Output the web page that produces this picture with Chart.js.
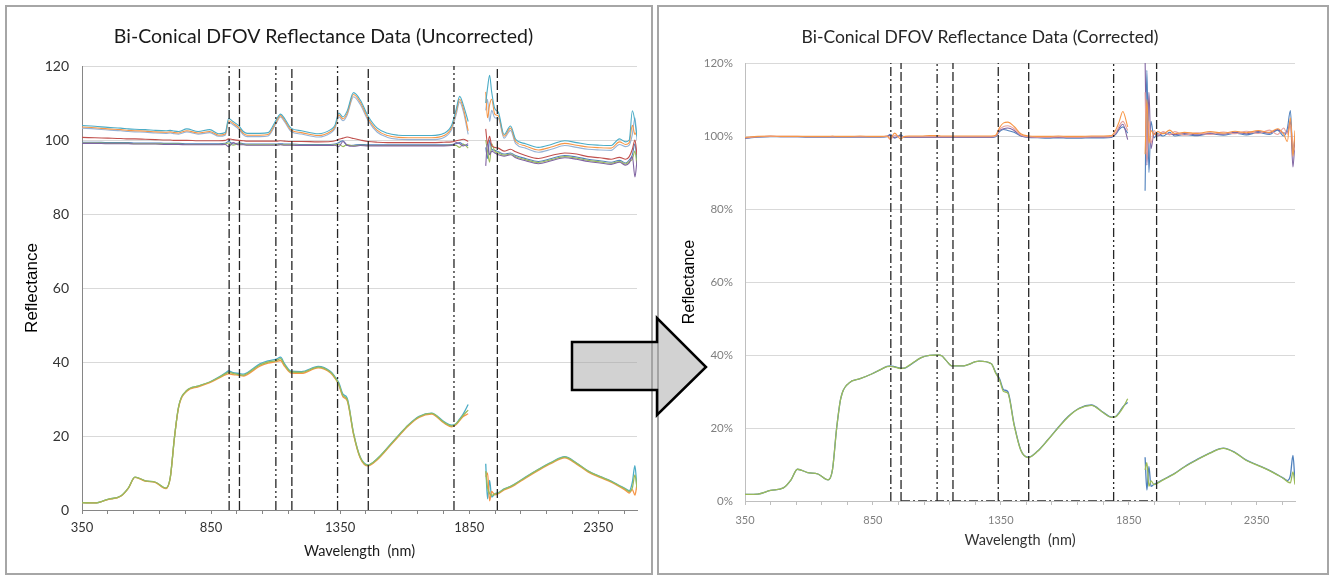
<!DOCTYPE html>
<html>
<head>
<meta charset="utf-8">
<title>Bi-Conical DFOV Reflectance Data</title>
<script src="https://cdn.jsdelivr.net/npm/chart.js@4.4.1/dist/chart.umd.min.js"></script>
<style>
  body { margin:0; background:#fff; width:1331px; height:576px; position:relative; overflow:hidden; }
  .panel { position:absolute; border:2px solid #a6a6a6; box-sizing:border-box; z-index:0; }
  .holder { position:absolute; top:0; z-index:1; }
  #arrow { position:absolute; left:0; top:0; z-index:2; }
</style>
</head>
<body>
<div class="panel" style="left:5px; top:5px; width:648px; height:570px"></div>
<div class="panel" style="left:657px; top:5px; width:672px; height:570px"></div>

<div class="holder" style="left:0; width:670px; height:576px"><canvas id="leftChart" width="670" height="576"></canvas></div>
<div class="holder" style="left:655px; width:676px; height:576px"><canvas id="rightChart" width="676" height="576"></canvas></div>

<svg id="arrow" width="1331" height="576">
  <polygon points="572,342 657,342 657,318 706,367 657,415 657,390 572,390"
           fill="rgba(160,160,160,0.48)" stroke="#000" stroke-width="2.5" stroke-linejoin="miter"/>
</svg>

<script>
// wavelength grid shared by every spectrum, null value at 1880 makes the gap
const wavelengths = [350,400,450,500,530,555,595,635,675,692,
  708,724,756,800,845,880,905,918,935,958,
  975,990,1039,1071,1103,1119,1135,1160,1200,1265,
  1313,1330,1345,1361,1377,1402,1428,1458,1494,1534,
  1575,1614,1656,1704,1752,1782,1800,1813,1827,1846,
  1880,1914,1921,1929,1937,1949,1963,1985,2010,2030,
  2068,2118,2168,2220,2266,2310,2356,2400,2432,2456,
  2470,2482,2492,2500];

// x axis: minor ticks every 100 nm, labels every 500 nm
const xTickValues = [350,450,550,650,750,850,950,1050,1150,1250,1350,1450,1550,1650,1750,1850,1950,2050,2150,2250,2350,2450];
const xLabelValues = [350,850,1350,1850,2350];

// vertical band markers and the corrected chart's baseline span
const markerWavelengths = [920,960,1101,1163,1340,1459,1791,1959];
const baselineSpan = [960,1959];

// ---- uncorrected: reference panel spectra (~100) ----
const leftTeal = [103.9,103.7,103.4,103.2,103.0,102.9,102.8,102.6,102.5,102.6,
  102.4,102.3,103.0,102.3,102.8,101.7,102.0,105.8,105.0,103.8,
  102.3,101.8,101.8,102.0,105.5,107.0,105.8,103.2,102.5,101.7,
  102.8,104.0,107.3,106.2,107.8,112.8,110.8,106.5,103.2,101.8,
  101.3,101.2,101.2,101.2,101.8,104.0,108.5,111.8,109.5,105.0,
  null,110.0,114.0,117.5,113.0,108.5,107.5,101.5,103.8,100.2,
  99.0,98.0,98.8,99.8,99.3,98.8,98.6,98.5,100.3,99.5,
  100.0,107.9,105.0,101.0];
const leftOrange = [103.5,103.3,103.0,102.8,102.6,102.5,102.4,102.2,102.1,102.2,
  102.0,101.9,102.5,101.9,102.3,101.3,101.6,105.2,104.5,103.3,
  101.8,101.3,101.3,101.5,105.0,106.6,105.3,102.7,102.0,101.2,
  102.3,103.5,106.8,105.7,107.2,112.3,110.2,105.9,102.6,101.2,
  100.7,100.6,100.6,100.6,101.2,103.4,107.8,111.0,108.6,102.5,
  null,113.0,106.0,109.5,111.0,107.0,106.5,101.0,103.2,99.6,
  98.4,97.3,98.1,99.1,98.6,98.1,97.9,97.8,99.5,98.8,
  99.3,104.0,101.5,102.5];
const leftLightBlue = [103.2,103.0,102.7,102.5,102.3,102.2,102.1,101.9,101.8,101.9,
  101.7,101.6,102.2,101.6,102.0,101.0,101.3,104.8,104.1,102.9,
  101.4,100.9,100.9,101.1,104.6,106.2,104.9,102.3,101.6,100.8,
  101.9,103.1,106.3,105.2,106.7,111.7,109.6,105.3,102.1,100.7,
  100.2,100.1,100.1,100.1,100.7,102.8,107.0,110.3,107.8,101.5,
  null,108.0,111.0,105.0,108.0,106.0,105.8,100.5,102.6,99.0,
  97.8,96.7,97.5,98.5,98.0,97.5,97.3,97.2,98.8,98.2,
  98.6,101.5,106.0,100.0];
const leftRed = [100.7,100.6,100.5,100.4,100.3,100.3,100.2,100.1,100.0,100.0,
  99.9,99.9,99.9,99.8,99.8,99.8,99.9,100.3,100.1,99.9,
  99.8,99.7,99.7,99.7,99.7,99.8,99.7,99.6,99.6,99.5,
  99.6,99.8,100.2,100.5,100.8,100.4,100.0,99.6,99.4,99.3,
  99.3,99.3,99.3,99.3,99.4,99.5,99.8,100.0,100.2,99.6,
  null,103.0,99.0,101.0,98.5,98.0,97.8,97.0,97.5,96.8,
  95.8,95.0,95.8,96.5,96.2,95.5,95.2,94.8,95.3,94.8,
  95.5,97.5,100.0,96.0];
const leftBlue = [99.4,99.4,99.3,99.3,99.3,99.2,99.2,99.2,99.1,99.1,
  99.1,99.1,99.0,99.0,99.0,99.0,99.1,99.6,98.9,99.2,
  99.0,98.9,98.9,98.9,98.9,99.0,98.9,98.9,98.8,98.8,
  98.8,98.9,99.3,99.8,98.5,98.6,98.8,98.7,98.7,98.7,
  98.7,98.7,98.7,98.7,98.7,98.8,99.0,99.3,98.8,98.5,
  null,98.0,95.0,100.0,97.5,97.2,96.8,96.2,96.5,95.8,
  95.0,94.2,95.0,95.8,95.4,94.8,94.4,94.0,94.5,93.8,
  94.6,96.0,99.0,94.0];
const leftGreen = [99.2,99.2,99.1,99.1,99.1,99.0,99.0,99.0,98.9,98.9,
  98.9,98.9,98.8,98.8,98.8,98.8,98.9,99.2,98.6,99.0,
  98.8,98.7,98.7,98.7,98.7,98.8,98.7,98.7,98.6,98.6,
  98.6,98.7,98.9,98.2,98.8,98.4,98.6,98.5,98.5,98.5,
  98.5,98.5,98.5,98.5,98.5,98.6,98.5,98.0,98.9,97.8,
  null,100.0,97.0,94.0,99.0,97.0,96.5,95.9,96.2,95.5,
  94.7,93.9,94.7,95.5,95.1,94.5,94.1,93.7,94.2,93.5,
  94.2,94.8,97.0,93.0];
const leftPurple = [99.1,99.1,99.0,99.0,99.0,98.9,98.9,98.9,98.8,98.8,
  98.8,98.8,98.7,98.7,98.7,98.7,98.8,98.2,99.3,98.7,
  98.7,98.6,98.6,98.6,98.6,98.7,98.6,98.6,98.5,98.5,
  98.5,98.6,98.2,99.6,98.6,98.3,98.5,98.4,98.4,98.4,
  98.4,98.4,98.4,98.4,98.4,98.5,99.3,99.0,98.4,99.0,
  null,93.0,99.5,96.0,97.0,96.5,96.0,95.6,96.0,95.2,
  94.4,93.6,94.4,95.2,94.8,94.2,93.8,93.4,94.0,93.2,
  93.8,95.5,90.0,94.5];

// ---- uncorrected: target spectra ----
const leftLowTeal = [2.0,1.9,2.9,3.8,6.0,8.9,7.9,7.5,5.9,8.8,
  19.5,27.8,32.3,33.5,34.6,35.9,37.0,37.6,37.1,36.9,
  36.7,37.1,39.5,40.3,40.8,41.3,39.5,37.5,37.4,38.8,
  37.4,36.0,34.4,31.3,30.3,20.8,14.3,12.2,13.9,16.9,
  20.1,23.0,25.3,26.2,23.9,22.9,23.4,24.6,26.0,28.5,
  null,12.5,3.0,8.0,3.5,4.4,4.7,5.7,6.4,7.2,
  8.9,11.0,12.9,14.4,12.7,10.6,9.1,7.8,6.6,5.7,
  5.2,7.5,12.0,5.5];
const leftLowOrange = [2.0,1.9,2.8,3.7,5.9,8.8,7.8,7.4,5.8,8.7,
  19.4,27.6,32.1,33.3,34.4,35.6,36.5,36.8,36.6,36.4,
  36.2,36.6,38.9,39.7,40.1,40.4,38.8,37.0,36.9,38.4,
  37.0,35.6,33.8,30.6,29.6,20.4,14.0,11.9,13.6,16.6,
  19.8,22.7,25.0,25.9,23.5,22.5,23.1,24.2,25.3,26.0,
  null,9.0,10.0,2.5,5.0,4.1,4.4,5.4,6.1,6.9,
  8.6,10.7,12.6,14.1,12.4,10.3,8.8,7.5,6.3,5.3,
  4.6,5.5,4.0,7.0];
const leftLowGreen = [2.0,1.9,2.9,3.8,6.0,8.9,7.9,7.5,5.9,8.8,
  19.5,27.8,32.3,33.5,34.6,35.8,36.8,37.2,36.9,36.6,
  36.4,36.9,39.2,40.0,40.4,40.9,39.2,37.3,37.2,38.6,
  37.2,35.8,34.0,30.9,29.9,20.6,14.2,12.1,13.8,16.8,
  20.0,22.9,25.2,26.1,23.7,22.7,23.3,24.4,25.6,27.0,
  null,10.5,6.0,4.5,4.0,4.3,4.6,5.6,6.3,7.1,
  8.8,10.9,12.8,14.3,12.6,10.5,9.0,7.7,6.5,5.6,
  5.0,6.0,9.5,6.0];

// ---- corrected (%): reference panel spectra ----
const rightBlue = [99.3,99.7,99.8,99.8,99.8,99.8,99.7,99.7,99.7,99.7,
  99.7,99.7,99.7,99.7,99.7,99.7,99.8,100.5,99.4,100.3,
  99.6,99.6,99.6,99.6,99.6,99.6,99.6,99.6,99.6,99.6,
  99.6,99.8,101.2,101.8,101.5,101.0,100.0,99.6,99.5,99.4,
  99.5,99.4,99.4,99.5,99.5,99.6,100.5,101.8,102.5,100.8,
  null,85.0,118.0,90.0,104.0,99.5,100.6,100.0,101.0,100.0,
  100.4,100.1,100.6,100.2,100.8,100.3,101.0,100.4,101.6,100.0,
  102.0,107.0,95.0,100.0];
const rightOrange = [99.6,99.9,100.0,99.9,99.9,99.9,99.9,99.9,99.9,100.0,
  99.9,99.9,99.9,100.0,99.9,99.9,100.0,99.3,100.8,99.2,
  99.9,100.0,100.0,100.1,100.1,100.0,100.0,100.0,100.0,100.0,
  100.0,100.2,102.3,103.6,103.8,102.6,100.6,100.0,99.9,99.9,
  100.0,99.9,99.9,100.0,100.0,100.1,101.8,104.0,106.7,102.5,
  null,95.0,110.0,98.0,101.5,100.4,101.2,100.6,101.6,100.6,
  101.0,100.7,101.2,100.8,101.3,100.9,101.5,101.0,102.0,100.5,
  98.5,105.0,94.5,101.5];
const rightPink = [99.5,99.8,99.9,99.9,99.9,99.9,99.8,99.8,99.8,99.8,
  99.8,99.8,99.8,99.8,99.8,99.8,99.9,99.0,100.2,99.8,
  99.8,99.8,99.8,99.8,99.8,99.8,99.8,99.8,99.8,99.8,
  99.8,100.0,101.8,102.6,102.8,102.0,100.3,99.8,99.7,99.7,
  99.8,99.7,99.7,99.8,99.8,99.9,101.0,102.8,104.0,101.5,
  null,112.0,93.5,104.0,98.0,101.5,100.2,101.2,100.3,101.2,
  100.2,100.9,100.4,101.1,100.6,101.3,100.7,101.6,100.4,102.2,
  100.5,103.0,98.0,96.0];
const rightPurple = [99.4,99.8,99.9,99.8,99.8,99.8,99.8,99.8,99.8,99.8,
  99.8,99.8,99.8,99.8,99.8,99.8,99.9,100.2,99.6,100.0,
  99.7,99.7,99.7,99.7,99.7,99.7,99.7,99.7,99.7,99.7,
  99.7,99.9,101.5,102.0,102.2,101.5,100.1,99.7,99.6,99.6,
  99.6,99.6,99.6,99.7,99.7,99.8,100.8,102.2,103.2,99.0,
  null,121.0,92.0,112.0,96.5,100.8,100.0,100.8,100.5,100.4,
  100.7,100.3,100.8,100.5,101.0,100.6,101.2,100.8,101.8,100.8,
  101.0,104.0,91.5,99.0];

// ---- corrected (%): target spectra ----
const rightLowBlue = [1.8,1.9,2.9,3.6,5.8,8.7,7.8,7.4,5.8,8.6,
  19.8,28.0,32.3,33.5,34.8,36.0,36.9,37.0,36.8,36.4,
  36.4,37.0,39.3,39.9,40.0,39.8,38.6,37.0,37.0,38.3,
  37.6,35.2,33.5,30.5,30.0,21.0,14.0,12.0,13.7,16.8,
  20.2,23.2,25.4,26.3,24.2,23.0,23.2,24.3,25.8,27.0,
  null,12.0,3.0,9.5,4.0,4.6,5.0,5.9,6.8,7.6,
  9.4,11.4,13.2,14.5,13.3,11.2,9.8,8.4,7.2,6.2,
  5.6,7.0,12.5,5.0];
const rightLowGreen = [1.8,1.9,2.9,3.6,5.8,8.7,7.8,7.4,5.8,8.6,
  19.8,28.0,32.3,33.5,34.8,36.0,36.8,36.9,36.7,36.3,
  36.5,37.1,39.3,39.9,40.0,39.8,38.6,37.0,37.0,38.3,
  37.6,35.0,33.2,30.0,29.6,20.8,13.9,11.9,13.6,16.7,
  20.1,23.1,25.3,26.2,24.1,22.9,23.1,24.1,25.5,28.0,
  null,8.5,10.5,4.0,5.5,4.5,4.9,5.8,6.7,7.5,
  9.3,11.3,13.1,14.4,13.2,11.1,9.7,8.3,7.1,6.1,
  5.3,5.0,8.0,4.5];

// dash patterns alternate dash-dot / long dash like the original
const markerDashes = [[9,3,2,3],[9,3],[9,3,2,3,2,3],[9,3],[9,3,2,3],[9,3],[9,3,2,3,2,3],[9,3]];

// smooth spectra: monotone cubic so peaks don't overshoot
const curve = (values, color, width) => ({
    data: wavelengths.map((x, i) => ({x: x, y: values[i]})),
    borderColor: color,
    borderWidth: width || 1.1,
    pointRadius: 0,
    cubicInterpolationMode: 'monotone',
    spanGaps: false,
    fill: false
});

const markers = (top) => markerWavelengths.map((w, i) => ({
    data: [{x: w, y: 0}, {x: w, y: top}],
    borderColor: '#262626',
    borderWidth: 1.3,
    borderDash: markerDashes[i % markerDashes.length],
    pointRadius: 0,
    fill: false
}));

// builds the shared options; sizes tuned so the plot area lands where Excel put it
const makeOptions = (o) => ({
    responsive: false,
    animation: false,
    layout: { padding: o.pad },
    plugins: {
        legend: { display: false },
        tooltip: { enabled: false },
        title: {
            display: true,
            text: o.title,
            color: o.titleColor,
            font: { family: 'Lato', size: o.titleSize, weight: 'normal' },
            padding: o.titlePad
        }
    },
    scales: {
        x: {
            type: 'linear',
            min: 350,
            max: 2500,
            afterFit: (s) => { s.height = o.xHeight; },
            afterBuildTicks: (s) => { s.ticks = xTickValues.map(v => ({value: v})); },
            grid: { drawOnChartArea: false, drawTicks: true, tickLength: 4, tickColor: o.axisColor },
            border: { display: true, color: o.axisColor, width: 1 },
            ticks: {
                autoSkip: false,
                maxRotation: 0,
                padding: o.xTickPad,
                color: o.tickColor,
                font: { family: 'Lato', size: o.tickSize },
                callback: (v) => xLabelValues.includes(v) ? String(v) : ''
            },
            title: {
                display: true,
                text: 'Wavelength  (nm)',
                color: o.xTitleColor,
                font: { family: 'Lato', size: 14.5 },
                padding: { top: 0, bottom: 0 }
            }
        },
        y: {
            min: 0,
            max: 120,
            afterFit: (s) => { s.width = o.yWidth; },
            grid: { color: '#d9d9d9', drawTicks: false },
            border: { display: true, color: o.axisColor, width: 1 },
            ticks: {
                stepSize: 20,
                padding: o.yTickPad,
                color: o.tickColor,
                font: { family: 'Lato', size: o.yTickSize },
                callback: (v) => v + o.suffix
            },
            title: {
                display: true,
                text: 'Reflectance',
                color: '#000',
                font: { family: 'Liberation Sans', size: o.yTitleSize },
                padding: { top: o.yTitlePad, bottom: 0 }
            }
        }
    }
});

new Chart(document.getElementById('leftChart').getContext('2d'), {
    type: 'line',
    data: {
        datasets: [
            ...markers(120),
            curve(leftLowGreen, '#9BBB59', 1.3),
            curve(leftLowOrange, '#F79646', 1.3),
            curve(leftLowTeal, '#4BACC6', 1.3),
            curve(leftTeal, '#4BACC6'),
            curve(leftOrange, '#F79646'),
            curve(leftLightBlue, '#95B3D7'),
            curve(leftRed, '#C0504D'),
            curve(leftPurple, '#8064A2'),
            curve(leftGreen, '#9BBB59'),
            curve(leftBlue, '#4F81BD')
        ]
    },
    options: makeOptions({
        pad: { left: 10, right: 33, top: 0, bottom: 16 },
        title: 'Bi-Conical DFOV Reflectance Data (Uncorrected)',
        titleColor: '#1a1a1a', titleSize: 19.5, titlePad: { top: 25.3, bottom: 17.3 },
        xHeight: 50, xTickPad: 6, yWidth: 72, yTickPad: 13,
        axisColor: '#868686', tickColor: '#333333', tickSize: 13, yTickSize: 14,
        xTitleColor: '#1a1a1a', yTitleSize: 17, yTitlePad: 12, suffix: ''
    })
});

new Chart(document.getElementById('rightChart').getContext('2d'), {
    type: 'line',
    data: {
        datasets: [
            ...markers(120),
            {
                data: baselineSpan.map(x => ({x: x, y: 0})),
                borderColor: '#262626', borderWidth: 1.3, borderDash: [9,3,2,3],
                pointRadius: 0, fill: false
            },
            curve(rightLowGreen, '#9BBB59', 1.3),
            curve(rightLowBlue, '#4F81BD', 1.3),
            curve(rightOrange, '#F79646'),
            curve(rightPink, '#E6A19E'),
            curve(rightPurple, '#8064A2'),
            curve(rightBlue, '#4F81BD')
        ]
    },
    options: makeOptions({
        pad: { left: 10, right: 36, top: 0, bottom: 27 },
        title: 'Bi-Conical DFOV Reflectance Data (Corrected)',
        titleColor: '#262626', titleSize: 17.5, titlePad: { top: 26.5, bottom: 15.5 },
        xHeight: 48, xTickPad: 9, yWidth: 80, yTickPad: 12,
        axisColor: '#bfbfbf', tickColor: '#7f7f7f', tickSize: 11, yTickSize: 11.5,
        xTitleColor: '#333333', yTitleSize: 16, yTitlePad: 15, suffix: '%'
    })
});
</script>
</body>
</html>
